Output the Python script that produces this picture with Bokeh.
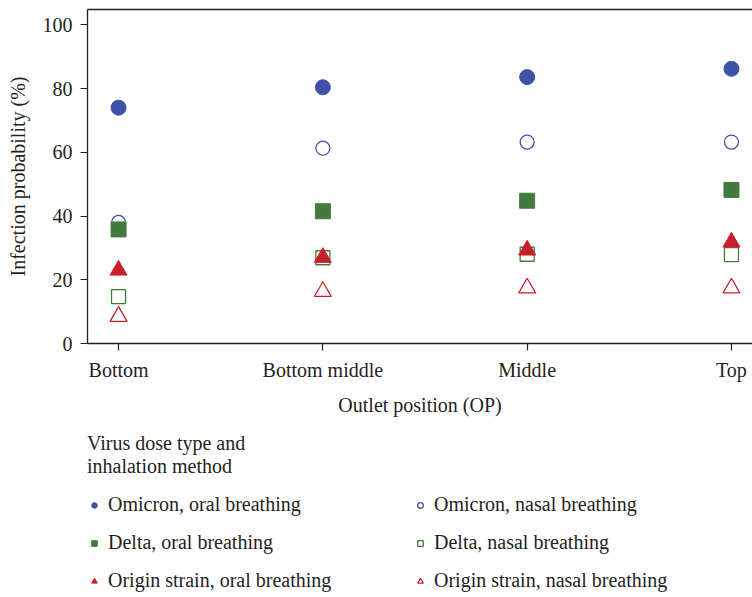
from bokeh.plotting import figure
from bokeh.models import Range1d, FixedTicker, LinearAxis, Legend, LegendItem
from bokeh.layouts import column
from bokeh.embed import file_html
from bokeh.resources import INLINE

# ---- data ----
categories = ["Bottom", "Bottom middle", "Middle", "Top"]
omicron_oral = [74.0, 80.4, 83.6, 86.2]
omicron_nasal = [38.0, 61.3, 63.2, 63.2]
delta_oral = [35.8, 41.5, 44.8, 48.2]
delta_nasal = [14.7, 26.9, 28.0, 27.9]
origin_oral = [23.0, 27.0, 29.3, 31.8]
origin_nasal = [8.5, 16.3, 17.4, 17.4]
y_ticks = [0, 20, 40, 60, 80, 100]
series_labels = [
    "Omicron, oral breathing", "Delta, oral breathing", "Origin strain, oral breathing",
    "Omicron, nasal breathing", "Delta, nasal breathing", "Origin strain, nasal breathing",
]
legend_title = "Virus dose type and\ninhalation method"

FONT = "Liberation Serif"
TXT = "#231F20"
BLUE = "#4051A8"
GREEN = "#457A3E"
RED = "#C8202A"

xs = list(range(len(categories)))

series = [
    (omicron_oral, "circle", 15, BLUE, True),
    (delta_oral, "square", 15, GREEN, True),
    (origin_oral, "triangle", 17, RED, True),
    (omicron_nasal, "circle", 14, BLUE, False),
    (delta_nasal, "square", 14, GREEN, False),
    (origin_nasal, "triangle", 17, RED, False),
]
draw_order = [0, 3, 1, 4, 2, 5]

H1 = 425
p = figure(width=752, height=H1,
           x_range=Range1d(-0.152, 3.103), y_range=Range1d(0, 104.8),
           output_backend="svg", toolbar_location=None,
           min_border_left=87, min_border_right=0, min_border_top=9,
           min_border_bottom=H1 - 343)
p.outline_line_color = None
p.grid.visible = False

for ax in (p.xaxis[0], p.yaxis[0]):
    ax.axis_line_color = TXT
    ax.axis_line_width = 1.3
    ax.major_tick_line_color = TXT
    ax.major_tick_line_width = 1.2
    ax.major_tick_out = 7
    ax.major_tick_in = 0
    ax.minor_tick_line_color = None
    ax.major_label_text_font = FONT
    ax.major_label_text_font_size = "20px"
    ax.major_label_text_color = TXT
    ax.axis_label_text_font = FONT
    ax.axis_label_text_font_size = "20px"
    ax.axis_label_text_font_style = "normal"
    ax.axis_label_text_color = TXT

p.xaxis.ticker = FixedTicker(ticks=xs)
p.xaxis.major_label_overrides = {i: c for i, c in zip(xs, categories)}
p.xaxis.axis_label = "Outlet position (OP)"
p.xaxis.major_label_standoff = 8
p.xaxis.axis_label_standoff = 10

p.yaxis.ticker = FixedTicker(ticks=y_ticks)
p.yaxis.axis_label = "Infection probability (%)"
p.yaxis.major_label_standoff = 8
p.yaxis.axis_label_standoff = 11

top_axis = LinearAxis(ticker=FixedTicker(ticks=[]), major_tick_out=0, major_tick_in=0,
                      major_label_standoff=0, axis_line_color=TXT, axis_line_width=1.3,
                      minor_tick_line_color=None)
p.add_layout(top_axis, "above")


def add_series(fig, idx):
    ys, marker, size, color, filled = series[idx]
    if filled:
        return fig.scatter(xs, ys, marker=marker, size=size, fill_color=color, line_color=color)
    return fig.scatter(xs, ys, marker=marker, size=size, fill_color=None,
                       line_color=color, line_width=1.3)


for i in draw_order:
    add_series(p, i)

# ---- legend panel (separate figure below, series drawn off-frame) ----
H2 = 597 - H1
p2 = figure(width=752, height=H2, x_range=Range1d(-0.152, 3.103), y_range=Range1d(500, 600),
            output_backend="svg", toolbar_location=None,
            x_axis_type=None, y_axis_type=None,
            min_border_left=0, min_border_right=0, min_border_top=0, min_border_bottom=0)
p2.outline_line_color = None
p2.grid.visible = False

leg_renderers = [add_series(p2, i) for i in range(len(series))]
items = [LegendItem(label=l, renderers=[r]) for l, r in zip(series_labels, leg_renderers)]
legend = Legend(items=items, location=(0, 5), ncols=2,
                title=legend_title,
                title_text_font=FONT, title_text_font_size="20px",
                title_text_font_style="normal", title_text_color=TXT,
                title_standoff=15,
                label_text_font=FONT, label_text_font_size="20px", label_text_color=TXT,
                border_line_color=None, background_fill_alpha=0,
                padding=0, margin=0, spacing=15,
                glyph_width=14, glyph_height=16, label_standoff=7, label_width=290)
p2.add_layout(legend, "center")

open("out.html", "w").write(file_html(column(p, p2, spacing=0), INLINE))
